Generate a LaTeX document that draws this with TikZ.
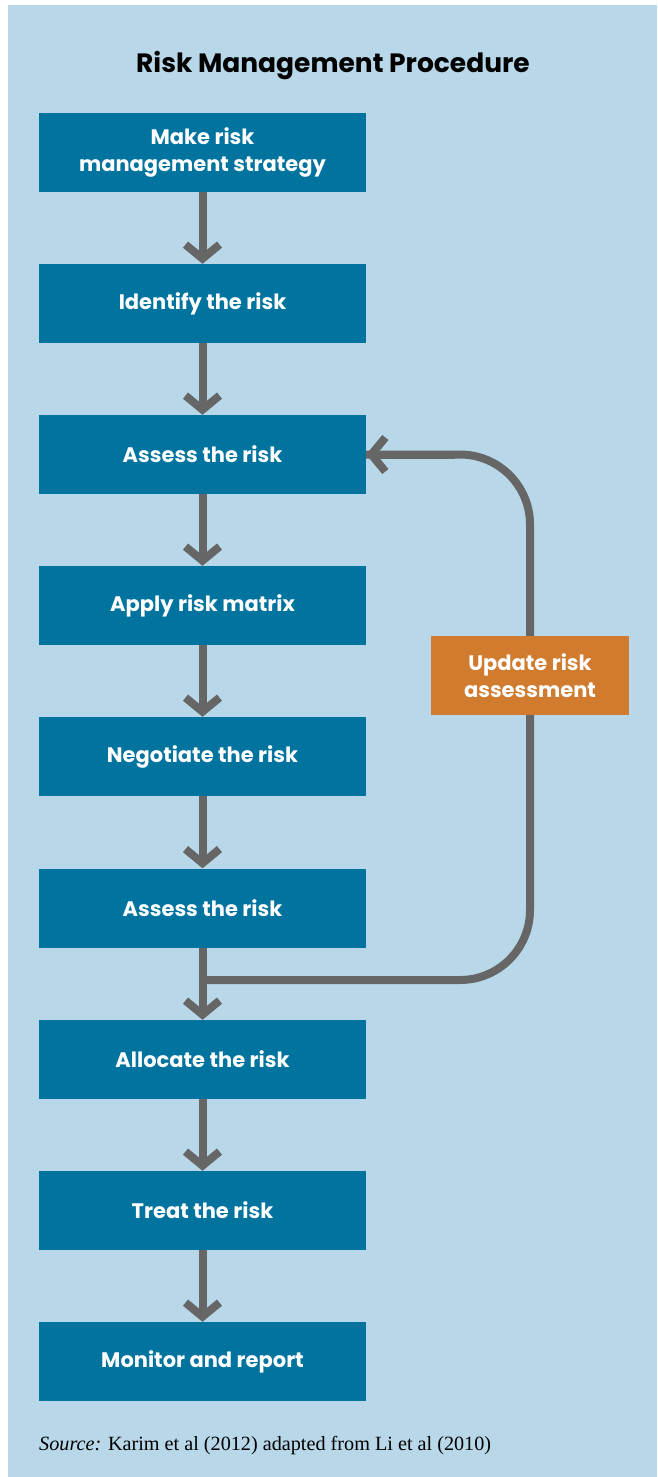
\documentclass[tikz,border=0pt]{standalone}
\usepackage{fontspec}
\setmainfont{Poppins}
\newfontfamily\srcfont{Liberation Serif}
\usetikzlibrary{arrows.meta}
\definecolor{bgblue}{HTML}{B8D7E8}
\definecolor{boxblue}{HTML}{00739F}
\definecolor{arrgray}{HTML}{666666}
\definecolor{updorange}{HTML}{D07B2E}
\tikzset{
  stepbox/.style={fill=boxblue, draw=none, minimum width=327pt, minimum height=79pt, inner sep=0pt,
    text=white, font=\fontsize{21}{27}\selectfont\bfseries, align=center},
  updbox/.style={fill=updorange, draw=none, minimum width=198pt, minimum height=79pt, inner sep=0pt,
    text=white, font=\fontsize{21}{27}\selectfont\bfseries, align=center},
  flow/.style={draw=arrgray, line width=8pt, -{Straight Barb[length=14pt,width=34pt]}},
  loopline/.style={draw=arrgray, line width=8pt, rounded corners=70pt}
}
\begin{document}
\begin{tikzpicture}[x=1pt,y=-1pt]
\fill[white] (0,0) rectangle (657,1477);
\useasboundingbox (0,0) rectangle (657,1477);
\fill[bgblue] (8,5) rectangle (657,1477);
\node[font=\fontsize{26.5}{30}\selectfont\bfseries, text=black] (title) at (333,65.5) {Risk Management Procedure};
\node[stepbox] (b1) at (202.5,152.5) {Make risk\\management strategy};
\node[stepbox] (b2) at (202.5,303.5) {Identify the risk};
\node[stepbox] (b3) at (202.5,454.5) {Assess the risk};
\node[stepbox] (b4) at (202.5,605.5) {Apply risk matrix};
\node[stepbox] (b5) at (202.5,756.5) {Negotiate the risk};
\node[stepbox] (b6) at (202.5,908) {Assess the risk};
\node[stepbox] (b7) at (202.5,1059.5) {Allocate the risk};
\node[stepbox] (b8) at (202.5,1210.5) {Treat the risk};
\node[stepbox] (b9) at (202.5,1361.5) {Monitor and report};
\coordinate (j) at (202.5,980);
\draw[loopline] (j) -- (j -| 530,0) -- (530,454.5) -- (b3.east);
\draw[draw=arrgray, line width=8pt, -{Straight Barb[length=14pt,width=34pt]}] (455,454.5) -- (b3.east);
\node[updbox] (upd) at (530,675.5) {Update risk\\assessment};
\foreach \a/\b in {b1/b2,b2/b3,b3/b4,b4/b5,b5/b6,b6/b7,b7/b8,b8/b9}
  \draw[flow] (\a.south) -- (\b.north);
\node[anchor=base west, font=\fontsize{20.2}{23}\srcfont, inner sep=0pt] (src) at (39,1450) {{\itshape Source:} Karim et al (2012) adapted from Li et al (2010)};
\end{tikzpicture}
\end{document}
